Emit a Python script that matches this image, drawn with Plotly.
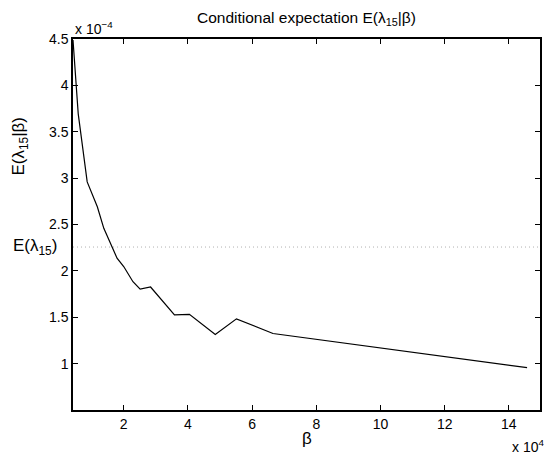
import plotly.graph_objects as go

# beta in units of 1e4, E(lambda15|beta) in units of 1e-4
beta = [0.42, 0.583, 0.862, 1.029, 1.178, 1.380, 1.668, 1.792, 2.0, 2.288, 2.512,
        2.837, 3.581, 4.047, 4.853, 5.513, 6.651, 14.567]
cond_exp = [4.49, 3.693, 2.959, 2.816, 2.691, 2.459, 2.226, 2.137, 2.047, 1.883, 1.803,
            1.826, 1.526, 1.532, 1.314, 1.483, 1.325, 0.957]
mean_exp = 2.257

x_ticks = [2, 4, 6, 8, 10, 12, 14]
x_ticktext = ["2", "4", "6", "8", "10", "12", "14"]
y_ticks = [1, 1.5, 2, 2.5, 3, 3.5, 4, 4.5]
y_ticktext = ["1", "1.5", "2", "2.5", "3", "3.5", "4", "4.5"]

x_range = [0.42, 14.97]
y_range = [0.5, 4.5]

FONT = "Liberation Sans, Arial, Helvetica, sans-serif"

fig = go.Figure()
fig.add_trace(go.Scatter(x=beta, y=cond_exp, mode="lines",
                         line=dict(color="black", width=1.2), showlegend=False,
                         hoverinfo="skip"))
fig.add_trace(go.Scatter(x=x_range, y=[mean_exp, mean_exp], mode="lines",
                         line=dict(color="#b0b0b0", width=1, dash="1px,3px"),
                         showlegend=False, hoverinfo="skip"))

axis_common = dict(showgrid=False, zeroline=False, showline=True, linecolor="black",
                   linewidth=1.5, mirror="ticks", ticks="inside", ticklen=5,
                   tickcolor="black", tickwidth=1,
                   tickfont=dict(family=FONT, size=14, color="black"))

fig.update_layout(
    width=544, height=454,
    margin=dict(l=73, r=2, t=39, b=44),
    plot_bgcolor="white", paper_bgcolor="white",
    xaxis=dict(range=x_range, tickvals=x_ticks, ticktext=x_ticktext, **axis_common),
    yaxis=dict(range=y_range, tickvals=y_ticks, ticktext=y_ticktext, **axis_common),
    font=dict(family=FONT, size=14, color="black"),
    annotations=[
        dict(text="Conditional expectation E(λ<sub>15</sub>|β)", xref="paper", yref="paper",
             x=0.5, y=1, yshift=9, xanchor="center", yanchor="bottom", showarrow=False,
             font=dict(size=15.5)),
        dict(text="x 10<sup>−4</sup>", xref="paper", yref="paper", x=0, y=1,
             xanchor="left", yanchor="bottom", showarrow=False, font=dict(size=14)),
        dict(text="x 10<sup>4</sup>", xref="paper", yref="paper", x=1, y=0,
             xanchor="right", yanchor="top", yshift=-25, xshift=6, showarrow=False,
             font=dict(size=14)),
        dict(text="β", xref="paper", yref="paper", x=0.5, y=0, xanchor="center",
             yanchor="top", yshift=-17, showarrow=False, font=dict(size=17)),
        dict(text="E(λ<sub>15</sub>|β)", xref="paper", yref="paper", x=0, y=0.71,
             xanchor="center", yanchor="middle", xshift=-53, textangle=-90,
             showarrow=False, font=dict(size=17)),
        dict(text="E(λ<sub>15</sub>)", xref="paper", yref="y", x=0, y=mean_exp,
             xanchor="right", yanchor="middle", xshift=-14, yshift=0,
             showarrow=False, font=dict(size=17)),
    ],
)

fig.write_html("out.html")
